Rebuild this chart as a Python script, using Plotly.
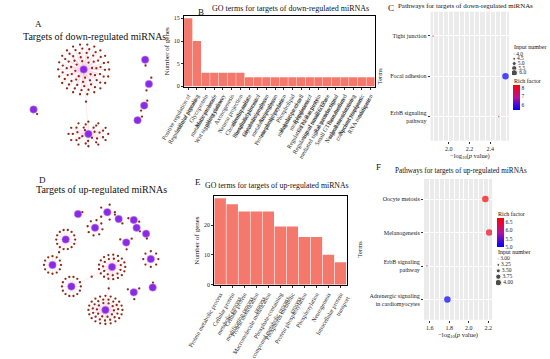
import math
import plotly.graph_objects as go

W, H = 550, 359
FONT = "Liberation Serif"

# ---------------- data ----------------
go_down_terms = [
    "Positive regulation of<br>cellular process", "Regulation of signaling",
    "Glycoprotein<br>metabolic process", "Macromolecule<br>glycosylation",
    "Wnt signaling pathway", "Axonogenesis", "Neuron projection<br>development",
    "Chondroitin sulfate<br>metabolic process", "Phosphatidylinositol<br>metabolic process",
    "Glycosaminoglycan<br>metabolic process", "Aminoglycan<br>metabolic process",
    "Protein phosphorylation", "Phospholipid<br>metabolic process",
    "Regulation of cell<br>morphogenesis", "Regulation of<br>GTPase activity",
    "Regulation of Ras protein<br>signal transduction", "Regulation of small GTPase<br>mediated signal transduction",
    "Ras protein signal<br>transduction", "Small GTPase mediated<br>signal transduction",
    "Nucleobase-containing<br>compound transport", "Nucleocytoplasmic<br>transport", "RNA modification",
]
go_down_counts = [15, 10, 3, 3, 3, 3, 3, 2, 2, 2, 2, 2, 2, 2, 2, 2, 2, 2, 2, 2, 2, 2]

go_up_terms = [
    "Protein metabolic process", "Cellular protein<br>metabolic process",
    "Cellular protein<br>modification process", "Protein modification<br>process",
    "Macromolecule modification", "Phosphate-containing<br>compound metabolic process",
    "Phosphorus metabolic<br>process", "Protein phosphorylation", "Phosphorylation",
    "Neurogenesis", "Intracellular protein<br>transport",
]
go_up_counts = [29, 27, 24.5, 24.5, 24.5, 19.5, 19.5, 16, 16, 10, 7.5]

path_down_terms = ["Tight junction", "Focal adhesion", "ErbB signaling<br>pathway"]
path_down_logp = [1.85, 2.545, 2.48]
path_down_input = [4, 6, 4]
path_down_rich = [8.35, 5.4, 6.9]

path_up_terms = ["Oocyte meiosis", "Melanogenesis", "ErbB signaling<br>pathway",
                 "Adrenergic signaling<br>in cardiomyocytes"]
path_up_logp = [2.17, 2.21, 1.57, 1.78]
path_up_input = [4, 4, 3, 4]
path_up_rich = [6.7, 6.5, 5.8, 5.0]

# network: number of targets per miRNA hub
down_hub_targets = [75, 32, 1, 1, 2, 2, 1]
down_shared = [(0, 1)]  # target shared by two hubs
up_hub_targets = [1, 5, 2, 2, 1, 1, 8, 14, 3, 8, 12, 28, 14, 3, 1, 45]
up_shared = [(7, 10), (11, 12), (11, 15)]

# network layout (pixel-like layout space): cx, cy, radius, y-aspect, start angle
down_layout = [(61, 71, 27, 0.95, 0.0), (66, 137, 21, 0.6, 0.0), (8, 112, 6, 1.0, 0.9),
               (126, 61, 6, 1.0, 1.5), (130, 86, 7, 1.0, -1.2), (125, 108, 6, 1.0, -1.0),
               (118, 123, 6, 1.0, 5.6)]
up_layout = [(55, 219, 5, 1.0, -0.4), (86, 217, 8, 1.0, 0.0), (98, 224, 6, 1.0, 4.0),
             (114, 225, 6, 1.0, 0.3), (117, 233, 5, 1.0, 0.8), (127, 239, 5, 1.0, 1.4),
             (73, 233, 8, 1.0, 0.2), (42, 245, 10, 1.0, 0.0), (106, 248, 7, 1.0, 3.6),
             (132, 265, 8, 1.0, 0.0), (28, 271, 9, 1.0, 0.0), (91, 273, 14, 0.9, 0.0),
             (48, 293, 10, 1.0, 0.0), (114, 299, 7, 1.0, -0.6), (134, 294, 5, 1.0, -1.5),
             (84, 317, 18, 0.8, 0.0)]


def px(x):
    return x / W


def py(y):
    return 1 - y / H


def disc(cx, cy, n, rmax, ay=1.0, a0=0.0):
    if n <= 0:
        return []
    rings = []
    r = rmax
    while r >= 7 or not rings:
        rings.append((r, max(1, int(2 * math.pi * r / 5.0))))
        r -= 4.5
    if n <= rings[0][1]:
        alloc = [n] + [0] * (len(rings) - 1)
    else:
        tot = sum(c for _, c in rings)
        alloc = [min(c, round(c * n / tot)) for _, c in rings]
        alloc[0] += n - sum(alloc)
    pts = []
    for j, ((r, c), k) in enumerate(zip(rings, alloc)):
        for i in range(k):
            a = a0 + 2 * math.pi * i / k + 0.35 * j
            pts.append((cx + r * math.cos(a), cy + r * math.sin(a) * ay))
    return pts


def network_traces(counts, lay, shared, xa, ya):
    ex, ey, tx, ty, hx, hy = [], [], [], [], [], []
    for n, (cx, cy, r, ay, a0) in zip(counts, lay):
        for (x, y) in disc(cx, cy, n, r, ay, a0):
            tx.append(x); ty.append(y)
            ex += [cx, x, None]; ey += [cy, y, None]
        hx.append(cx); hy.append(cy)
    for a, b in shared:
        mx = (lay[a][0] + lay[b][0]) / 2
        my = (lay[a][1] + lay[b][1]) / 2
        tx.append(mx); ty.append(my)
        for h in (a, b):
            ex += [lay[h][0], mx, None]; ey += [lay[h][1], my, None]
    return [
        go.Scatter(x=ex, y=ey, mode="lines", line=dict(color="rgba(255,175,205,0.5)", width=0.6),
                   xaxis=xa, yaxis=ya, hoverinfo="skip", showlegend=False),
        go.Scatter(x=tx, y=ty, mode="markers", marker=dict(size=2.3, color="#8B2A12"),
                   xaxis=xa, yaxis=ya, showlegend=False),
        go.Scatter(x=hx, y=hy, mode="markers",
                   marker=dict(size=7.5, color="#8A2BE2", line=dict(width=1, color="rgba(200,150,255,0.5)")),
                   xaxis=xa, yaxis=ya, showlegend=False),
    ]


def size_map(v, lo, hi):
    return 1.5 + (v - lo) / (hi - lo) * 5.0


CSCALE = [[0, "#0000FF"], [0.5, "#B4139A"], [1, "#FF0000"]]

fig = go.Figure()

# --- A / D networks
for t in network_traces(down_hub_targets, down_layout, down_shared, "x", "y"):
    fig.add_trace(t)
for t in network_traces(up_hub_targets, up_layout, up_shared, "x4", "y4"):
    fig.add_trace(t)

# --- B / E bars
fig.add_trace(go.Bar(x=go_down_terms, y=go_down_counts, marker=dict(color="#F5786C", line=dict(width=0)),
                     xaxis="x2", yaxis="y2", showlegend=False))
fig.add_trace(go.Bar(x=go_up_terms, y=go_up_counts, marker=dict(color="#F5786C", line=dict(width=0)),
                     xaxis="x5", yaxis="y5", showlegend=False))

# --- C bubble
lo, hi = min(path_down_input), max(path_down_input)
fig.add_trace(go.Scatter(
    x=path_down_logp, y=path_down_terms, mode="markers", xaxis="x3", yaxis="y3", showlegend=False,
    marker=dict(size=[size_map(v, lo, hi) for v in path_down_input], color=path_down_rich,
                colorscale=CSCALE, cmin=5.4, cmax=8.36, line=dict(width=0),
                colorbar=dict(x=px(515), xanchor="left", y=py(99.5), yanchor="middle",
                              lenmode="pixels", len=25, thickness=7, xpad=0, ypad=0,
                              outlinewidth=0, tickvals=[6, 7, 8], ticks="",
                              tickfont=dict(size=5.5, family=FONT)))))
# C size legend
leg_c = [4.0, 4.5, 5.0, 5.5, 6.0]
fig.add_trace(go.Scatter(
    x=[0] * len(leg_c), y=leg_c, mode="markers+text", text=[f"{v:.1f}" for v in leg_c],
    textposition="middle right", textfont=dict(size=5.5, family=FONT),
    marker=dict(size=[size_map(v, lo, hi) for v in leg_c], color="black"),
    xaxis="x7", yaxis="y7", showlegend=False))

# --- F bubble
lo2, hi2 = min(path_up_input), max(path_up_input)
fig.add_trace(go.Scatter(
    x=path_up_logp, y=path_up_terms, mode="markers", xaxis="x6", yaxis="y6", showlegend=False,
    marker=dict(size=[size_map(v, lo2, hi2) for v in path_up_input], color=path_up_rich,
                colorscale=CSCALE, cmin=5.0, cmax=6.7, line=dict(width=0),
                colorbar=dict(x=px(498), xanchor="left", y=py(238), yanchor="middle",
                              lenmode="pixels", len=29, thickness=7, xpad=0, ypad=0,
                              outlinewidth=0, tickvals=[5.0, 5.5, 6.0, 6.5], tickformat=".1f",
                              ticks="", tickfont=dict(size=5.5, family=FONT)))))
leg_f = [3.00, 3.25, 3.50, 3.75, 4.00]
fig.add_trace(go.Scatter(
    x=[0] * len(leg_f), y=leg_f, mode="markers+text", text=[f"{v:.2f}" for v in leg_f],
    textposition="middle right", textfont=dict(size=5.5, family=FONT),
    marker=dict(size=[size_map(v, lo2, hi2) for v in leg_f], color="black"),
    xaxis="x8", yaxis="y8", showlegend=False))

hidden = dict(visible=False, showgrid=False, zeroline=False)
tick_font = dict(size=6, family=FONT, color="#222")
bar_x = dict(tickangle=-60, tickfont=dict(size=6, family=FONT, color="#222"), ticks="outside", ticklen=2,
             tickcolor="#333", showline=True, mirror=True, linecolor="black", linewidth=1,
             showgrid=False, type="category")
bar_y = dict(tickfont=tick_font, ticks="outside", ticklen=2, tickcolor="#333", showline=True, mirror=True,
             linecolor="black", linewidth=1, showgrid=False, zeroline=False,
             title=dict(text="Number of genes", font=dict(size=7, family=FONT), standoff=3))
bub_x = dict(tickfont=tick_font, ticks="outside", ticklen=2, tickcolor="#333", showline=False,
             showgrid=True, gridcolor="white", gridwidth=1, zeroline=False,
             minor=dict(showgrid=True, gridcolor="white", gridwidth=0.5),
             title=dict(text="−log<sub>10</sub>(<i>p</i> value)", font=dict(size=6.5, family=FONT), standoff=2))
bub_y = dict(tickfont=tick_font, ticks="outside", ticklen=2, tickcolor="#333", showgrid=True, gridcolor="white",
             gridwidth=1, zeroline=False, type="category",
             title=dict(text="Terms", font=dict(size=6.5, family=FONT), standoff=6))

fig.update_layout(
    width=W, height=H, margin=dict(l=0, r=0, t=0, b=0),
    paper_bgcolor="white", plot_bgcolor="rgba(0,0,0,0)",
    font=dict(family=FONT, color="#222"), bargap=0.05,
    xaxis=dict(domain=[px(0), px(148)], range=[0, 148], **hidden),
    yaxis=dict(domain=[py(165), py(40)], range=[165, 40], **hidden),
    xaxis4=dict(domain=[px(0), px(150)], range=[0, 150], **hidden),
    yaxis4=dict(domain=[py(340), py(200)], range=[340, 200], **hidden),
    xaxis2=dict(domain=[px(167), px(369)], anchor="y2", **bar_x),
    yaxis2=dict(domain=[py(89), py(16)], anchor="x2", range=[-0.15, 15.6], tickvals=[0, 5, 10, 15], **bar_y),
    xaxis5=dict(domain=[px(199), px(339)], anchor="y5", **bar_x),
    yaxis5=dict(domain=[py(292), py(200)], anchor="x5", range=[-0.3, 29.9], tickvals=[0, 10, 20], **bar_y),
    xaxis3=dict(domain=[px(428), px(511)], anchor="y3", range=[1.827, 2.58], tickvals=[2.0, 2.2, 2.4],
                ticktext=["2.0", "2.2", "2.4"], **bub_x),
    yaxis3=dict(domain=[py(144), py(12)], anchor="x3", categoryorder="array",
                categoryarray=path_down_terms, range=[2.6, -0.6], **bub_y),
    xaxis6=dict(domain=[px(421), px(493)], anchor="y6", range=[1.54, 2.24], tickvals=[1.6, 1.8, 2.0, 2.2],
                ticktext=["1.6", "1.8", "2.0", "2.2"], **bub_x),
    yaxis6=dict(domain=[py(327), py(183)], anchor="x6", categoryorder="array",
                categoryarray=path_up_terms, range=[3.6, -0.6], **bub_y),
    xaxis7=dict(domain=[px(514), px(545)], range=[-0.5, 6], **hidden),
    yaxis7=dict(domain=[py(77), py(53)], range=[6.25, 3.75], anchor="x7", **hidden),
    xaxis8=dict(domain=[px(497), px(530)], range=[-0.5, 6], **hidden),
    yaxis8=dict(domain=[py(292), py(262)], range=[4.12, 2.88], anchor="x8", **hidden),
)

# grey panel backgrounds for the pathway plots
for ax in ("3", "6"):
    fig.add_shape(type="rect", xref=f"x{ax} domain", yref=f"y{ax} domain", x0=0, x1=1, y0=0, y1=1,
                  fillcolor="#EBEBEB", line=dict(width=0), layer="below")

ann = [
    ("A", 7, 25, 9, "left"), ("Targets of down-regulated miRNAs", 72, 37, 10, "center"),
    ("B", 180, 12, 9, "left"), ("GO terms for targets of down-regulated miRNAs", 280, 9, 8, "center"),
    ("C", 381, 8, 9, "left"), ("Pathways for targets of down-regulated miRNAs", 465, 6, 6.9, "center"),
    ("D", 12, 184, 9, "left"), ("Targets of up-regulated miRNAs", 80, 194, 10, "center"),
    ("E", 177, 186, 9, "left"), ("GO terms for targets of up-regulated miRNAs", 265, 190, 7.8, "center"),
    ("F", 368, 171, 9, "left"), ("Pathways for targets of up-regulated miRNAs", 460, 175, 7.2, "center"),
    ("Input number", 514, 48, 6, "left"), ("Rich factor", 514, 83, 6, "left"),
    ("Rich factor", 497, 219, 6, "left"), ("Input number", 497, 258, 6, "left"),
]
for text, x, y, s, al in ann:
    fig.add_annotation(text=text, x=px(x), y=py(y), xref="paper", yref="paper", showarrow=False,
                       xanchor=al, yanchor="middle", font=dict(size=s, family=FONT, color="#111"))

fig.write_html("out.html", config={"displayModeBar": False},
               post_script="document.body.style.margin='0';document.body.style.overflow='hidden';")
